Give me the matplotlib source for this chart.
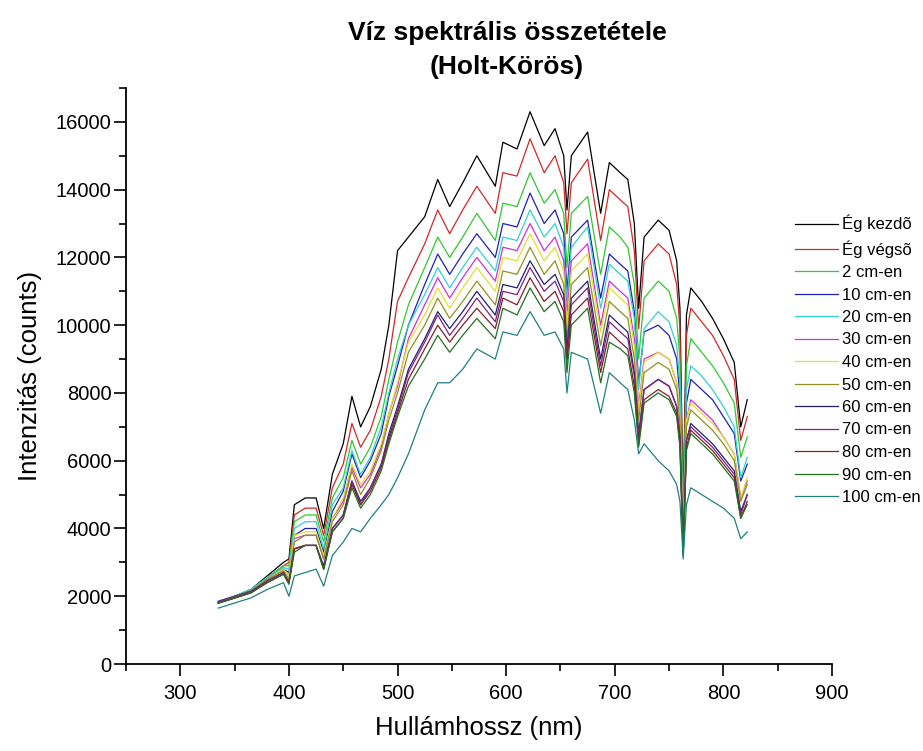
import numpy as np
import matplotlib
matplotlib.use("Agg")
import matplotlib.pyplot as plt
from matplotlib.ticker import MultipleLocator

plt.rcParams['font.family'] = ['Liberation Sans', 'DejaVu Sans']

# wavelength grid (nm)
wavelength = [335, 350, 365, 380, 395, 400, 405, 415, 425, 432, 440, 450, 458, 466, 475, 485, 492, 500,
              510, 525, 537, 548, 560, 573, 590, 597, 610, 622, 635, 645, 653, 656, 660, 675, 687, 695,
              705, 712, 718, 722, 727, 740, 750, 757, 760, 763, 766, 770, 780, 790, 800, 810, 816, 822]

eg_kezdo = [1800, 2000, 2200, 2600, 3000, 3100, 4700, 4900, 4900, 4000, 5600, 6500, 7900, 7000, 7600, 8700, 10000, 12200,
            12600, 13200, 14300, 13500, 14200, 15000, 14100, 15400, 15200, 16300, 15300, 15800, 15000, 13400, 15000, 15700, 13300, 14800,
            14500, 14300, 13000, 10500, 12600, 13100, 12800, 11900, 10500, 4600, 10300, 11100, 10700, 10200, 9600, 8900, 7000, 7800]
eg_vegso = [1800, 1950, 2150, 2550, 2900, 3000, 4400, 4600, 4600, 3800, 5200, 5900, 7100, 6400, 6900, 7900, 9000, 10700,
            11400, 12400, 13400, 12700, 13400, 14100, 13300, 14500, 14400, 15500, 14500, 15000, 14200, 12700, 14200, 14900, 12500, 14000,
            13700, 13500, 12200, 9900, 11900, 12400, 12100, 11200, 9900, 4400, 9700, 10500, 10100, 9700, 9100, 8400, 6600, 7300]
cm2 = [1800, 2000, 2200, 2550, 2900, 2900, 4200, 4400, 4400, 3600, 4900, 5500, 6600, 5900, 6400, 7300, 8400, 9500,
       10600, 11700, 12600, 12000, 12600, 13300, 12500, 13600, 13500, 14500, 13600, 14000, 13300, 11700, 13300, 13800, 11500, 12900,
       12600, 12300, 11200, 9000, 10800, 11300, 11000, 10200, 9000, 4100, 8800, 9600, 9200, 8800, 8300, 7700, 6100, 6700]
cm10 = [1850, 2000, 2150, 2500, 2800, 2700, 3800, 4000, 4000, 3300, 4500, 5100, 6200, 5500, 6000, 6800, 7900, 8800,
        10000, 11200, 12100, 11500, 12100, 12700, 12000, 13000, 12900, 13900, 13000, 13400, 12700, 11000, 12600, 13100, 10800, 12100,
        11800, 11600, 10400, 8300, 9800, 10000, 9700, 9000, 7900, 3800, 7700, 8400, 8100, 7800, 7300, 6800, 5400, 5900]
cm20 = [1800, 2000, 2200, 2550, 2850, 2800, 4000, 4200, 4200, 3400, 4700, 5200, 6300, 5600, 6100, 7000, 8000, 9000,
        10000, 10900, 11700, 11100, 11700, 12300, 11600, 12600, 12500, 13400, 12600, 13000, 12300, 10700, 12300, 12900, 10500, 11800,
        11500, 11300, 10200, 8100, 9900, 10400, 10100, 9400, 8300, 3900, 8100, 8800, 8500, 8100, 7600, 7000, 5500, 6100]
cm30 = [1800, 1950, 2150, 2500, 2800, 2600, 3700, 3800, 3800, 3100, 4300, 4800, 5800, 5200, 5600, 6400, 7400, 8200,
        9600, 10600, 11400, 10800, 11400, 12000, 11300, 12300, 12200, 13000, 12200, 12600, 11900, 10300, 11900, 12400, 10000, 11300,
        11000, 10800, 9600, 7600, 9000, 9200, 9000, 8300, 7300, 3600, 7200, 7800, 7500, 7200, 6700, 6200, 4900, 5400]
cm40 = [1800, 1950, 2150, 2500, 2800, 2600, 3800, 3900, 3900, 3200, 4300, 4900, 5900, 5300, 5700, 6500, 7400, 8300,
        9500, 10300, 11100, 10500, 11100, 11700, 11000, 12000, 11900, 12700, 11900, 12300, 11600, 10000, 11600, 12100, 9800, 11100,
        10800, 10600, 9400, 7500, 8900, 9200, 9000, 8300, 7300, 3600, 7200, 7700, 7400, 7100, 6700, 6200, 4900, 5500]
cm50 = [1800, 1950, 2150, 2500, 2750, 2500, 3600, 3800, 3800, 3100, 4200, 4700, 5700, 5000, 5500, 6300, 7200, 8000,
        9200, 10000, 10800, 10200, 10700, 11300, 10600, 11600, 11500, 12300, 11500, 11900, 11200, 9600, 11200, 11700, 9400, 10700,
        10400, 10200, 9000, 7200, 8600, 8900, 8700, 8100, 7100, 3500, 7000, 7500, 7200, 6900, 6500, 6000, 4800, 5300]
cm60 = [1800, 1950, 2100, 2450, 2700, 2400, 3400, 3500, 3500, 2900, 4000, 4400, 5400, 4800, 5200, 5900, 6800, 7600,
        8700, 9600, 10400, 9900, 10400, 11000, 10300, 11200, 11100, 11900, 11200, 11500, 10900, 9300, 10800, 11300, 9000, 10300,
        10000, 9800, 8600, 6800, 8100, 8400, 8200, 7600, 6700, 3300, 6600, 7100, 6800, 6500, 6100, 5700, 4500, 5000]
cm70 = [1850, 2000, 2150, 2450, 2700, 2400, 3400, 3500, 3500, 2800, 4000, 4400, 5400, 4700, 5200, 5900, 6700, 7500,
        8600, 9500, 10300, 9700, 10200, 10800, 10100, 11000, 10900, 11700, 11000, 11300, 10700, 9100, 10600, 11100, 8800, 10100,
        9800, 9600, 8500, 6700, 8100, 8400, 8200, 7600, 6700, 3300, 6600, 7000, 6700, 6400, 6000, 5600, 4400, 5000]
cm80 = [1800, 1950, 2100, 2400, 2650, 2400, 3400, 3500, 3500, 2800, 3900, 4300, 5300, 4700, 5100, 5800, 6600, 7400,
        8400, 9300, 10000, 9500, 10000, 10500, 9900, 10800, 10600, 11400, 10700, 11000, 10400, 8900, 10300, 10800, 8600, 9800,
        9500, 9300, 8200, 6500, 7800, 8100, 7900, 7400, 6500, 3200, 6400, 6900, 6600, 6300, 5900, 5500, 4300, 4800]
cm90 = [1800, 1950, 2100, 2400, 2650, 2350, 3300, 3500, 3500, 2800, 3900, 4300, 5200, 4600, 5000, 5700, 6500, 7300,
        8200, 9000, 9700, 9200, 9700, 10200, 9600, 10500, 10300, 11100, 10400, 10700, 10100, 8600, 10000, 10500, 8300, 9500,
        9300, 9100, 8000, 6400, 7700, 8000, 7800, 7300, 6400, 3200, 6300, 6800, 6500, 6200, 5800, 5400, 4300, 4700]
cm100 = [1650, 1800, 1950, 2200, 2400, 2000, 2600, 2700, 2800, 2300, 3200, 3600, 4000, 3900, 4300, 4700, 5000, 5500,
         6200, 7500, 8300, 8300, 8700, 9300, 9000, 9800, 9700, 10400, 9700, 9800, 9300, 8000, 9200, 9000, 7400, 8600,
         8300, 8100, 7200, 6200, 6500, 6000, 5700, 5300, 4800, 3100, 4700, 5200, 5000, 4800, 4600, 4300, 3700, 3900]

series = [eg_kezdo, eg_vegso, cm2, cm10, cm20, cm30, cm40, cm50, cm60, cm70, cm80, cm90, cm100]
labels = ['Ég kezdõ', 'Ég végsõ', '2 cm-en', '10 cm-en', '20 cm-en', '30 cm-en', '40 cm-en',
          '50 cm-en', '60 cm-en', '70 cm-en', '80 cm-en', '90 cm-en', '100 cm-en']
colors = ['#000000', '#d02828', '#30c830', '#2020b0', '#30d0d0', '#d030d0', '#e0e030',
          '#909020', '#202078', '#802080', '#802028', '#207020', '#208080']

fig = plt.figure(figsize=(9.23, 7.51), dpi=100)
ax = fig.add_axes([126/923, 1-664/751, (832-126)/923, (664-88)/751])

for vals, label, col in zip(series, labels, colors):
    ax.plot(wavelength, vals, color=col, linewidth=0.9, label=label)

ax.set_xlim(250, 900)
ax.set_ylim(0, 17000)
ax.xaxis.set_major_locator(MultipleLocator(100))
ax.xaxis.set_minor_locator(MultipleLocator(50))
ax.yaxis.set_major_locator(MultipleLocator(2000))
ax.yaxis.set_minor_locator(MultipleLocator(1000))
ax.spines['top'].set_visible(False)
ax.spines['right'].set_visible(False)
for s in ['left', 'bottom']:
    ax.spines[s].set_linewidth(1.3)
ax.tick_params(which='major', direction='out', length=8.5, width=1.2, labelsize=14.5)
ax.tick_params(which='minor', direction='out', length=5, width=1.2)
ax.tick_params(axis='x', which='major', pad=6)
ax.tick_params(axis='y', which='major', pad=2)

ax.set_xlabel('Hullámhossz (nm)', fontsize=18.5, labelpad=9)
ax.set_ylabel('Intenzitás (counts)', fontsize=18.5, labelpad=10)

fig.text(507/923, 1-50/751, 'Víz spektrális összetétele\n(Holt-Körös)', ha='center', va='center',
         fontsize=19, fontweight='bold', linespacing=1.55)

fig.legend(loc='upper left', bbox_to_anchor=(795/923, 1-215/751), frameon=False, fontsize=12,
           handlelength=2.6, handletextpad=0.2, labelspacing=0.45, borderaxespad=0, borderpad=0)

fig.savefig('out.png', dpi=100)
